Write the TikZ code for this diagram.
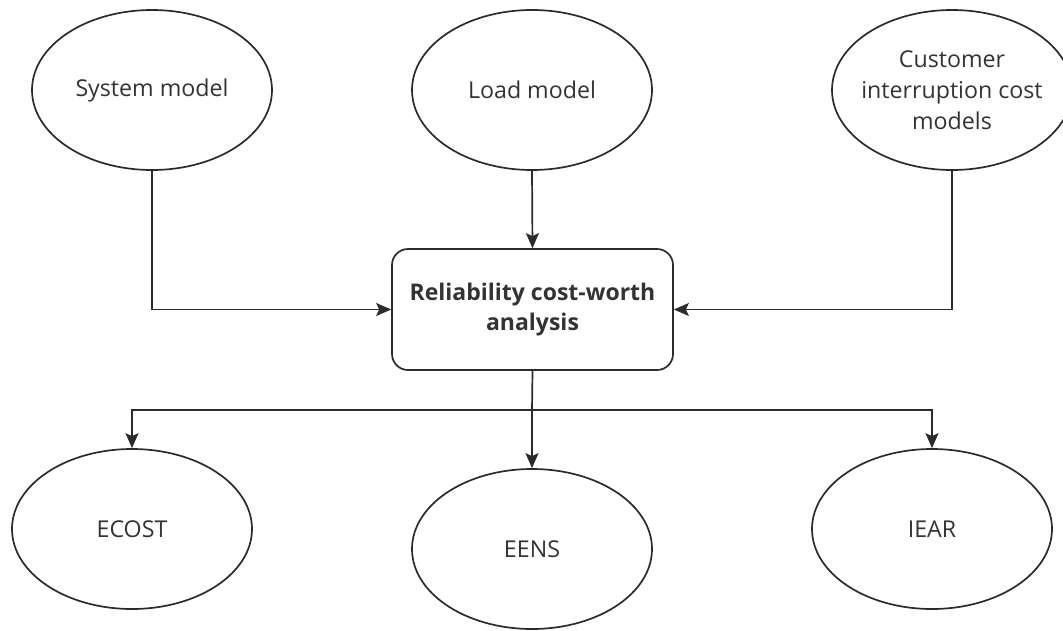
\documentclass[tikz,border=0pt]{standalone}
\usepackage{fontspec}
\setmainfont{Open Sans}
\usetikzlibrary{shapes.geometric,arrows.meta}
\definecolor{ln}{HTML}{2B2B2B}
\definecolor{tx}{HTML}{333333}
\tikzset{
  ell/.style={ellipse,draw=ln,line width=1.7pt,minimum width=240pt,minimum height=160pt,inner sep=0pt,align=center,text=tx,font=\fontsize{23.2}{31}\selectfont},
  mainbox/.style={rectangle,rounded corners=16pt,draw=ln,line width=1.7pt,minimum width=281pt,minimum height=121pt,align=center,text=tx,font=\fontsize{23}{30}\selectfont\bfseries},
  conn/.style={draw=ln,line width=1.7pt,-{Stealth[length=15pt,width=13pt,inset=3pt]}},
  plain/.style={draw=ln,line width=1.7pt}
}
\begin{document}
\begin{tikzpicture}[x=1pt,y=-1pt]
\useasboundingbox (0,0) rectangle (1063,630);
\clip (0,0) rectangle (1063,630);
\node[ell] (sys) at (152,90) {System model};
\node[ell] (load) at (532,90) {Load model};
\node[ell,inner xsep=-12pt] (cust) at (952,90) {Customer\\interruption cost\\models};
\node[mainbox] (rel) at (532.5,309.5) {Reliability cost-worth\\analysis};
\node[ell] (ecost) at (132,529) {ECOST};
\node[ell] (eens) at (532,549) {EENS};
\node[ell] (iear) at (932,529) {IEAR};
\coordinate (split) at (532,410);
\draw[conn] (load.south) -- (rel.north);
\draw[conn] (sys.south) |- (rel.west);
\draw[conn] (cust.south) |- (rel.east);
\draw[plain] (rel.south) -- (split);
\draw[conn] (split) -| (ecost.north);
\draw[conn] (split) -- (eens.north);
\draw[conn] (split) -| (iear.north);
\end{tikzpicture}
\end{document}
